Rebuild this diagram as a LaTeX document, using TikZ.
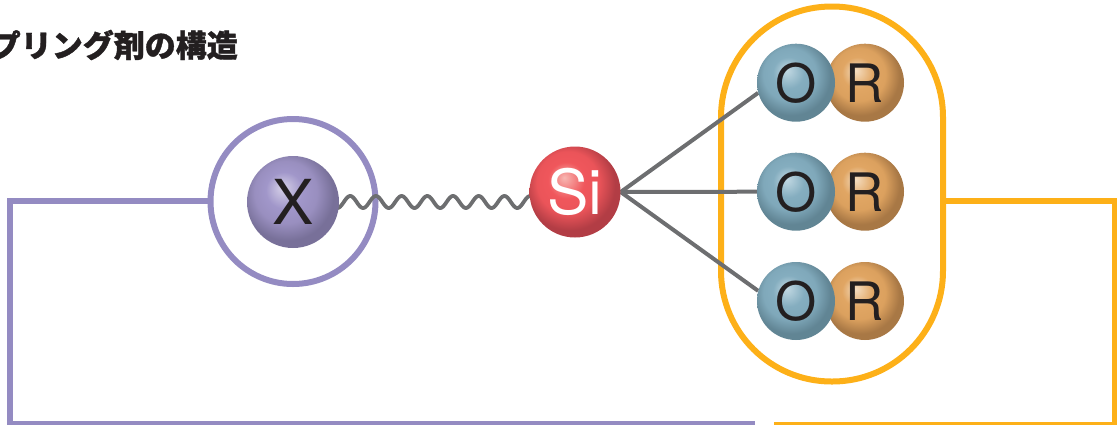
\documentclass[tikz,border=0pt]{standalone}
\usepackage{fontspec}
\setmainfont{TeX Gyre Heros}
\newfontfamily\cjk[FakeBold=1.2]{Noto Sans CJK JP Black}
\usetikzlibrary{calc,backgrounds}
\definecolor{ringpurple}{HTML}{948BC2}
\definecolor{ringorange}{HTML}{FDB018}
\definecolor{bondgray}{HTML}{6D6E70}
\definecolor{inkblack}{HTML}{231F20}
\pgfdeclareradialshading{xball}{\pgfpoint{-6bp}{8bp}}{
 rgb(0bp)=(0.84,0.82,0.91);
 rgb(10bp)=(0.63,0.59,0.79);
 rgb(17bp)=(0.60,0.56,0.75);
 rgb(25bp)=(0.47,0.44,0.60);
 rgb(50bp)=(0.47,0.44,0.60)}
\pgfdeclareradialshading{siball}{\pgfpoint{-6bp}{8bp}}{
 rgb(0bp)=(0.97,0.72,0.70);
 rgb(10bp)=(0.94,0.34,0.36);
 rgb(17bp)=(0.92,0.33,0.35);
 rgb(25bp)=(0.70,0.24,0.27);
 rgb(50bp)=(0.70,0.24,0.27)}
\pgfdeclareradialshading{oball}{\pgfpoint{-6bp}{8bp}}{
 rgb(0bp)=(0.76,0.85,0.89);
 rgb(10bp)=(0.52,0.68,0.75);
 rgb(17bp)=(0.50,0.66,0.73);
 rgb(25bp)=(0.38,0.52,0.58);
 rgb(50bp)=(0.38,0.52,0.58)}
\pgfdeclareradialshading{rball}{\pgfpoint{-6bp}{8bp}}{
 rgb(0bp)=(0.96,0.87,0.76);
 rgb(10bp)=(0.88,0.65,0.39);
 rgb(17bp)=(0.86,0.63,0.37);
 rgb(25bp)=(0.66,0.47,0.27);
 rgb(50bp)=(0.66,0.47,0.27)}
\tikzset{
 sphere/.style={circle,inner sep=0pt,text=inkblack,font=\fontsize{#1}{#1}\selectfont},
 xsphere/.style={sphere=62,minimum size=92pt,shading=xball},
 sisphere/.style={sphere=62,minimum size=91pt,shading=siball,text=white},
 osphere/.style={sphere=53,minimum size=78pt,shading=oball},
 rsphere/.style={sphere=53,minimum size=78pt,shading=rball},
 bond/.style={draw=bondgray,line width=4pt},
 wave/.style={draw=bondgray,line width=3.8pt,line join=round},
 purpleline/.style={draw=ringpurple,line width=6pt},
 orangeline/.style={draw=ringorange,line width=6pt},
}
\begin{document}
\begin{tikzpicture}[x=1pt,y=-1pt]
\useasboundingbox (0,0) rectangle (1117,424);
\clip (0,0) rectangle (1117,424);
% spheres
\node[xsphere] (xb) at (293,202) {X};
\node[sisphere] (si) at (575,192) {Si};
\foreach \n/\y in {a/82.7,b/191.7,c/301}{
  \node[rsphere] (r\n) at (865,\y) {R};
  \node[osphere] (o\n) at (796,\y) {O};
}
\begin{pgfonlayer}{background}
\node[circle,purpleline,minimum size=165pt,inner sep=0pt] (ring) at (293,201.5) {};
\node[orangeline,rounded corners=110.5pt,minimum width=222pt,minimum height=375pt,inner sep=0pt] (capsule) at (832,194) {};
\coordinate (pcorner) at (10,200.7);
\coordinate (pbottom) at (10,424.3);
\coordinate (pend) at (755,424.3);
\coordinate (ocorner) at (1114.8,200.7);
\coordinate (obottom) at (1114.8,424.5);
\coordinate (oend) at (774,424.5);
\coordinate (ringw) at (ring.west |- pcorner);
\coordinate (capse) at (capsule.east |- ocorner);
\draw[purpleline] (ringw) -- (pcorner) -- (pbottom) -- (pend);
\draw[orangeline] (capse) -- (ocorner) -- (obottom) -- (oend);
\draw[wave,shift={(xb.east)}] plot[domain=-2:194,samples=200] (\x,{-6*sin(14.008*(\x-4.6))});
\draw[bond] (si.east) -- (oa.195);
\draw[bond] (si.east) -- (ob.west);
\draw[bond] (si.east) -- (oc.165);
\end{pgfonlayer}
\node[anchor=east,text=inkblack,inner sep=0pt,font=\cjk\fontsize{31}{31}\selectfont] (title) at (238,45) {プリング剤の構造};
\end{tikzpicture}
\end{document}
